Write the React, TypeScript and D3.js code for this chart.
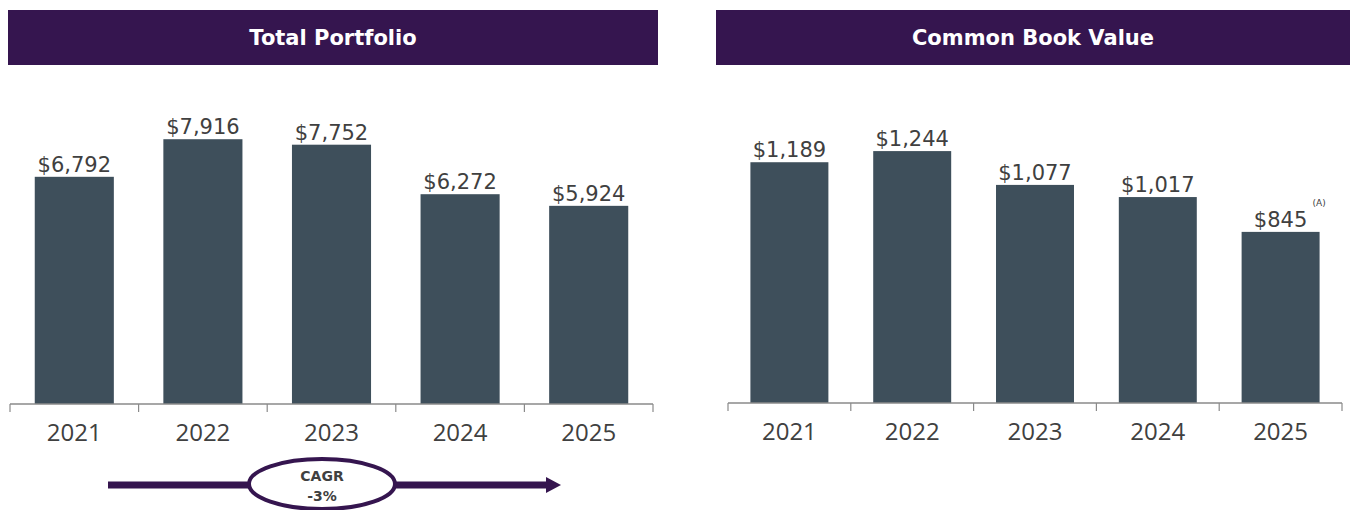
import React from "react";
import * as d3 from "d3";

const years = ["2021", "2022", "2023", "2024", "2025"];
const portfolio = [6792, 7916, 7752, 6272, 5924];
const bookValue = [1189, 1244, 1077, 1017, 845];
const titles = ["Total Portfolio", "Common Book Value"];
const cagrLabel = ["CAGR", "-3%"];

const PURPLE = "#35154f";
const BAR = "#3e4f5b";
const TEXT = "#404040";

const BarPanel = props => {
  const { x0, x1, baseline, data, domainMax, height, pad, title, hx0, hx1, note } = props;
  const x = d3.scaleBand().domain(years).range([x0, x1]).paddingInner(pad).paddingOuter(pad / 2);
  const y = d3.scaleLinear().domain([0, domainMax]).range([baseline, baseline - height]);
  const fmt = d3.format(",");
  const ticks = d3.range(years.length + 1).map(i => x0 + (i * (x1 - x0)) / years.length);

  return (
    <g>
      <rect x={hx0} y={10} width={hx1 - hx0} height={55} fill={PURPLE} />
      <text
        x={(hx0 + hx1) / 2}
        y={39}
        textAnchor="middle"
        dominantBaseline="middle"
        fill="#ffffff"
        fontFamily="DejaVu Sans"
        fontWeight="bold"
        fontSize={21}
      >
        {title}
      </text>
      {data.map((v, i) => {
        const cx = x(years[i]) + x.bandwidth() / 2;
        return (
          <g key={years[i]}>
            <rect x={x(years[i])} y={y(v)} width={x.bandwidth()} height={baseline - y(v)} fill={BAR} />
            <text x={cx} y={y(v) - 5} textAnchor="middle" fill={TEXT} fontFamily="DejaVu Sans" fontSize={21}>
              {"$" + fmt(v)}
            </text>
            {note && i === data.length - 1 && (
              <text x={cx + 32} y={y(v) - 26} fill={TEXT} fontFamily="DejaVu Sans" fontSize={9}>
                {note}
              </text>
            )}
            <text x={cx} y={baseline + 37} textAnchor="middle" fill={TEXT} fontFamily="Open Sans" fontSize={24}>
              {years[i]}
            </text>
          </g>
        );
      })}
      <line x1={x0} x2={x1} y1={baseline} y2={baseline} stroke="#8a8a8a" strokeWidth={1.5} />
      {ticks.map((t, i) => (
        <line key={i} x1={t} x2={t} y1={baseline} y2={baseline + 8} stroke="#8a8a8a" strokeWidth={1.2} />
      ))}
    </g>
  );
};

const App = () => {
  return (
    <svg width={1350} height={510} style={{ position: "absolute", left: 0, top: 0, background: "#fff" }}>
      <BarPanel
        x0={10}
        x1={653}
        hx0={8}
        hx1={658}
        baseline={404}
        data={portfolio}
        domainMax={9000}
        height={9000 * 0.03345}
        pad={0.385}
        title={titles[0]}
      />
      <BarPanel
        x0={728}
        x1={1342}
        hx0={716}
        hx1={1350}
        baseline={403}
        data={bookValue}
        domainMax={1400}
        height={1400 * 0.2025}
        pad={0.365}
        title={titles[1]}
        note="(A)"
      />
      <g>
        <line x1={108} x2={548} y1={485} y2={485} stroke={PURPLE} strokeWidth={7} />
        <path d="M546,477 L561,485 L546,493 Z" fill={PURPLE} />
        <ellipse cx={322} cy={484} rx={73} ry={25} fill="#fff" stroke={PURPLE} strokeWidth={4} />
        <text x={322} y={481} textAnchor="middle" fill={TEXT} fontFamily="DejaVu Sans" fontWeight="bold" fontSize={14}>
          {cagrLabel[0]}
        </text>
        <text x={322} y={501} textAnchor="middle" fill={TEXT} fontFamily="DejaVu Sans" fontWeight="bold" fontSize={14}>
          {cagrLabel[1]}
        </text>
      </g>
    </svg>
  );
};

export default App;
